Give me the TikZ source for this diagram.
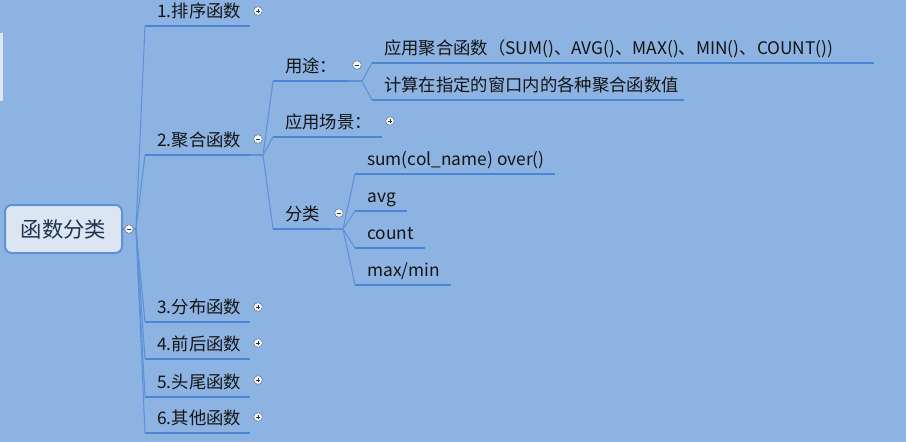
\documentclass[tikz,border=0pt]{standalone}
\usepackage{fontspec}
\setmainfont{Noto Sans CJK SC}
\definecolor{bgblue}{RGB}{141,179,226}
\definecolor{ulblue}{RGB}{74,134,212}
\definecolor{linkblue}{RGB}{95,145,215}
\definecolor{rootfill}{RGB}{220,230,242}
\definecolor{rootink}{RGB}{31,50,80}
\definecolor{txt}{RGB}{20,20,20}
\definecolor{foldgray}{RGB}{110,130,160}
\definecolor{foldink}{RGB}{40,55,85}
\definecolor{panel}{RGB}{222,230,240}
\begin{document}
\begin{tikzpicture}[
    x=0.75pt, y=-0.75pt,
    topic/.style={anchor=south west, inner xsep=9pt, inner ysep=6.5pt, text depth=0pt,
                  font=\fontsize{13}{15}\selectfont, text=txt},
    root/.style={draw=linkblue, line width=1.5pt, fill=rootfill, rounded corners=5pt,
                 minimum width=87.75pt, minimum height=36pt,
                 font=\fontsize{16}{19}\selectfont, text=rootink},
    link/.style={draw=linkblue, line width=0.8pt},
    uline/.style={draw=ulblue, line width=2.2pt},
    fold/.style={circle, draw=foldgray, fill=white, line width=0.5pt, inner sep=0pt, minimum size=6.5pt},
    fplus/.style={fold, path picture={
        \draw[foldink, line width=0.7pt]
          ([xshift=-1.8pt]path picture bounding box.center) -- ([xshift=1.8pt]path picture bounding box.center)
          ([yshift=-1.8pt]path picture bounding box.center) -- ([yshift=1.8pt]path picture bounding box.center);}},
    fminus/.style={fold, path picture={
        \draw[foldink, line width=0.7pt]
          ([xshift=-1.8pt]path picture bounding box.center) -- ([xshift=1.8pt]path picture bounding box.center);}}
]
    \useasboundingbox (0,0) rectangle (906,442);
    \fill[bgblue] (0,0) rectangle (906,442);
    \fill[panel] (0,33) rectangle (3,101);

    % root and first level
    \node[root] (root) at (63.5,229) {函数分类};
    \node[topic] (f1) at (145,26)  {1.排序函数};
    \node[topic] (f2) at (145,155) {2.聚合函数};
    \node[topic] (f3) at (145,322) {3.分布函数};
    \node[topic] (f4) at (145,359) {4.前后函数};
    \node[topic] (f5) at (145,397) {5.头尾函数};
    \node[topic] (f6) at (145,433) {6.其他函数};

    % second level under 2.聚合函数
    \node[topic] (use)   at (273,81)  {用途：};
    \node[topic] (scene) at (273,137) {应用场景：};
    \node[topic] (kind)  at (273,229) {分类};

    % third level
    \node[topic] (use1) at (372,63)  {应用聚合函数（SUM()、AVG()、MAX()、MIN()、COUNT())};
    \node[topic] (use2) at (372,100) {计算在指定的窗口内的各种聚合函数值};
    \node[topic] (k1) at (355,174) {sum(col\_name) over()};
    \node[topic] (k2) at (355,211) {avg};
    \node[topic] (k3) at (355,248) {count};
    \node[topic] (k4) at (355,285) {max/min};

    \foreach \n/\l in {f1/105, f2/105, f3/105, f4/105, f5/105, f6/105,
                       use/75, scene/109, kind/58, use1/502, use2/312,
                       k1/200, k2/52, k3/70, k4/96}
        \draw[uline] (\n.south west) -- ++(\l,0);

    % branch hubs
    \coordinate (h0)  at (136,229);
    \coordinate (h2)  at (263,155);
    \coordinate (h21) at (362,81);
    \coordinate (h23) at (343,229);

    \draw[link] (root.east) -- (h0);
    \foreach \n in {f1,f2,f3,f4,f5,f6}
        \draw[link] (h0) -- (\n.south west);
    \draw[link] (f2.south west) ++(105,0) -- (h2);
    \foreach \n in {use,scene,kind}
        \draw[link] (h2) -- (\n.south west);
    \draw[link] (use.south west) ++(75,0) -- (h21);
    \foreach \n in {use1,use2}
        \draw[link] (h21) -- (\n.south west);
    \draw[link] (kind.south west) ++(58,0) -- (h23);
    \foreach \n in {k1,k2,k3,k4}
        \draw[link] (h23) -- (\n.south west);

    % fold markers
    \node[fminus] (xroot)  at (129,229) {};
    \node[fplus]  (x1)     at (258,11)  {};
    \node[fminus] (x2)     at (258,139) {};
    \node[fplus]  (x3)     at (258,307) {};
    \node[fplus]  (x4)     at (258,343) {};
    \node[fplus]  (x5)     at (258,380) {};
    \node[fplus]  (x6)     at (258,417) {};
    \node[fminus] (xuse)   at (357,65)  {};
    \node[fplus]  (xscene) at (390,121) {};
    \node[fminus] (xkind)  at (339,213) {};
\end{tikzpicture}
\end{document}
